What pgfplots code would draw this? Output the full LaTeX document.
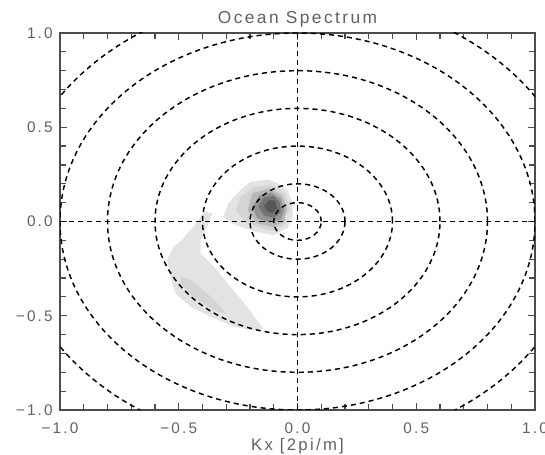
\documentclass[border=0pt]{standalone}
\usepackage{fontspec}
\setmainfont{Liberation Sans}[LetterSpace=14.0]
\usepackage{pgfplots}
\pgfplotsset{compat=1.18}
\definecolor{lab}{gray}{0.38}
\definecolor{frm}{gray}{0.3}
\definecolor{g1}{gray}{0.89}
\definecolor{g2}{gray}{0.83}
\definecolor{g3}{gray}{0.72}
\definecolor{g4}{gray}{0.58}
\definecolor{g5}{gray}{0.45}
\definecolor{g6}{gray}{0.34}
\begin{document}
\begin{tikzpicture}[
  ring/.style={black, line width=1.1pt, dash pattern=on 3.8pt off 3pt},
  tk/.style={frm, line width=0.9pt}]
\begin{axis}[
  name=ax,
  width=356.25pt, height=282.75pt, scale only axis,
  xmin=-1, xmax=1, ymin=-1, ymax=1,
  unbounded coords=jump,
  xtick={-1,-0.5,0,0.5,1}, ytick={-1,-0.5,0,0.5,1},
  xticklabels={−1.0,−0.5,0.0,0.5,1.0},
  yticklabels={−1.0,−0.5,0.0,0.5,1.0},
  tick align=inside,
  major tick length=5pt,
  axis line style={frm, line width=0.8pt},
  tick style={frm, line width=0.9pt},
  ticklabel style={font=\fontsize{11.5}{13}\selectfont, text=lab},
  xticklabel style={yshift=-6pt},
  yticklabel style={xshift=-2pt},
  title={Ocean Spectrum},
  title style={font=\fontsize{13}{15}\selectfont, text=lab, yshift=-5pt},
  xlabel={Kx [2pi/m]},
  xlabel style={font=\fontsize{12.5}{14}\selectfont, text=lab, yshift=3pt},
]
% main blob, lightest to darkest
\addplot[fill=g1, draw=none] coordinates {
  (-0.312,0.024)(-0.291,0.098)(-0.240,0.167)(-0.198,0.210)(-0.126,0.222)
  (-0.084,0.204)(-0.042,0.167)(-0.021,0.098)(-0.021,0.024)(-0.042,-0.034)
  (-0.101,-0.072)(-0.168,-0.056)(-0.227,-0.034)(-0.282,-0.008)} -- cycle;
\addplot[fill=g2, draw=none] coordinates {
  (-0.26,0.06)(-0.24,0.13)(-0.18,0.185)(-0.11,0.195)(-0.055,0.155)(-0.032,0.08)
  (-0.042,0.0)(-0.09,-0.05)(-0.16,-0.035)(-0.22,0.0)} -- cycle;
\addplot[fill=g3, draw=none] coordinates {
  (-0.21,0.06)(-0.19,0.15)(-0.12,0.175)(-0.065,0.14)(-0.045,0.07)(-0.055,0.0)
  (-0.10,-0.03)(-0.17,-0.01)} -- cycle;
\addplot[fill=g4, draw=none] coordinates {
  (-0.19,0.075)(-0.16,0.14)(-0.11,0.155)(-0.07,0.12)(-0.055,0.06)(-0.07,0.01)
  (-0.12,-0.005)(-0.17,0.02)} -- cycle;
\addplot[fill=g5, draw=none] coordinates {
  (-0.165,0.08)(-0.14,0.13)(-0.10,0.135)(-0.075,0.10)(-0.07,0.05)(-0.10,0.02)
  (-0.14,0.03)} -- cycle;
\addplot[fill=g6, draw=none] coordinates {
  (-0.14,0.085)(-0.12,0.115)(-0.095,0.11)(-0.085,0.07)(-0.105,0.045)
  (-0.13,0.055)} -- cycle;
% small crescent near the origin
\addplot[fill=g1, draw=none] coordinates {
  (-0.045,0.045)(-0.052,0.02)(-0.045,0.0)(-0.03,0.005)(-0.037,0.022)
  (-0.03,0.04)} -- cycle;
% lower arc
\addplot[fill=g1, draw=none] coordinates {
  (-0.359,0.043)(-0.380,-0.027)(-0.408,-0.098)(-0.408,-0.169)(-0.352,-0.240)
  (-0.282,-0.346)(-0.212,-0.452)(-0.156,-0.549)(-0.142,-0.567)(-0.198,-0.576)
  (-0.268,-0.558)(-0.366,-0.505)(-0.451,-0.452)(-0.514,-0.381)(-0.535,-0.293)
  (-0.549,-0.204)(-0.521,-0.134)(-0.486,-0.098)(-0.465,-0.063)(-0.437,-0.027)
  (-0.408,0.025)(-0.394,0.052)} -- cycle;
\addplot[fill=g2, draw=none] coordinates {
  (-0.493,-0.293)(-0.451,-0.310)(-0.380,-0.381)(-0.310,-0.469)(-0.303,-0.487)
  (-0.338,-0.478)(-0.408,-0.425)(-0.465,-0.372)(-0.493,-0.319)} -- cycle;
% tick marks every 0.1 on all four sides
\addplot[tk] coordinates {
  (-0.9,-1)(-0.9,-0.97)(-0.9,nan)(-0.9,0.97)(-0.9,1)(-0.9,nan)
  (-0.8,-1)(-0.8,-0.97)(-0.8,nan)(-0.8,0.97)(-0.8,1)(-0.8,nan)
  (-0.7,-1)(-0.7,-0.97)(-0.7,nan)(-0.7,0.97)(-0.7,1)(-0.7,nan)
  (-0.6,-1)(-0.6,-0.97)(-0.6,nan)(-0.6,0.97)(-0.6,1)(-0.6,nan)
  (-0.5,-1)(-0.5,-0.97)(-0.5,nan)(-0.5,0.97)(-0.5,1)(-0.5,nan)
  (-0.4,-1)(-0.4,-0.97)(-0.4,nan)(-0.4,0.97)(-0.4,1)(-0.4,nan)
  (-0.3,-1)(-0.3,-0.97)(-0.3,nan)(-0.3,0.97)(-0.3,1)(-0.3,nan)
  (-0.2,-1)(-0.2,-0.97)(-0.2,nan)(-0.2,0.97)(-0.2,1)(-0.2,nan)
  (-0.1,-1)(-0.1,-0.97)(-0.1,nan)(-0.1,0.97)(-0.1,1)(-0.1,nan)
  (0.1,-1)(0.1,-0.97)(0.1,nan)(0.1,0.97)(0.1,1)(0.1,nan)
  (0.2,-1)(0.2,-0.97)(0.2,nan)(0.2,0.97)(0.2,1)(0.2,nan)
  (0.3,-1)(0.3,-0.97)(0.3,nan)(0.3,0.97)(0.3,1)(0.3,nan)
  (0.4,-1)(0.4,-0.97)(0.4,nan)(0.4,0.97)(0.4,1)(0.4,nan)
  (0.5,-1)(0.5,-0.97)(0.5,nan)(0.5,0.97)(0.5,1)(0.5,nan)
  (0.6,-1)(0.6,-0.97)(0.6,nan)(0.6,0.97)(0.6,1)(0.6,nan)
  (0.7,-1)(0.7,-0.97)(0.7,nan)(0.7,0.97)(0.7,1)(0.7,nan)
  (0.8,-1)(0.8,-0.97)(0.8,nan)(0.8,0.97)(0.8,1)(0.8,nan)
  (0.9,-1)(0.9,-0.97)(0.9,nan)(0.9,0.97)(0.9,1)(0.9,nan)};
\addplot[tk] coordinates {
  (-1,-0.9)(-0.975,-0.9)(nan,-0.9)(0.975,-0.9)(1,-0.9)(nan,-0.9)
  (-1,-0.8)(-0.975,-0.8)(nan,-0.8)(0.975,-0.8)(1,-0.8)(nan,-0.8)
  (-1,-0.7)(-0.975,-0.7)(nan,-0.7)(0.975,-0.7)(1,-0.7)(nan,-0.7)
  (-1,-0.6)(-0.975,-0.6)(nan,-0.6)(0.975,-0.6)(1,-0.6)(nan,-0.6)
  (-1,-0.5)(-0.975,-0.5)(nan,-0.5)(0.975,-0.5)(1,-0.5)(nan,-0.5)
  (-1,-0.4)(-0.975,-0.4)(nan,-0.4)(0.975,-0.4)(1,-0.4)(nan,-0.4)
  (-1,-0.3)(-0.975,-0.3)(nan,-0.3)(0.975,-0.3)(1,-0.3)(nan,-0.3)
  (-1,-0.2)(-0.975,-0.2)(nan,-0.2)(0.975,-0.2)(1,-0.2)(nan,-0.2)
  (-1,-0.1)(-0.975,-0.1)(nan,-0.1)(0.975,-0.1)(1,-0.1)(nan,-0.1)
  (-1,0.1)(-0.975,0.1)(nan,0.1)(0.975,0.1)(1,0.1)(nan,0.1)
  (-1,0.2)(-0.975,0.2)(nan,0.2)(0.975,0.2)(1,0.2)(nan,0.2)
  (-1,0.3)(-0.975,0.3)(nan,0.3)(0.975,0.3)(1,0.3)(nan,0.3)
  (-1,0.4)(-0.975,0.4)(nan,0.4)(0.975,0.4)(1,0.4)(nan,0.4)
  (-1,0.5)(-0.975,0.5)(nan,0.5)(0.975,0.5)(1,0.5)(nan,0.5)
  (-1,0.6)(-0.975,0.6)(nan,0.6)(0.975,0.6)(1,0.6)(nan,0.6)
  (-1,0.7)(-0.975,0.7)(nan,0.7)(0.975,0.7)(1,0.7)(nan,0.7)
  (-1,0.8)(-0.975,0.8)(nan,0.8)(0.975,0.8)(1,0.8)(nan,0.8)
  (-1,0.9)(-0.975,0.9)(nan,0.9)(0.975,0.9)(1,0.9)(nan,0.9)};
% dashed axes and rings
\addplot[ring] coordinates {(-1,0)(1,0)};
\addplot[ring] coordinates {(0,-1)(0,1)};
\pgfplotsinvokeforeach{0.1,0.2,0.4,0.6,0.8,1.0,1.2}{
  \draw[ring] (axis cs:0,0) ellipse [x radius=#1, y radius=#1];
}
\end{axis}
\pgfresetboundingbox
\path[use as bounding box] ([xshift=-45pt,yshift=-33.75pt]ax.south west)
  rectangle ([xshift=7.5pt,yshift=24.75pt]ax.north east);
\end{tikzpicture}
\end{document}
